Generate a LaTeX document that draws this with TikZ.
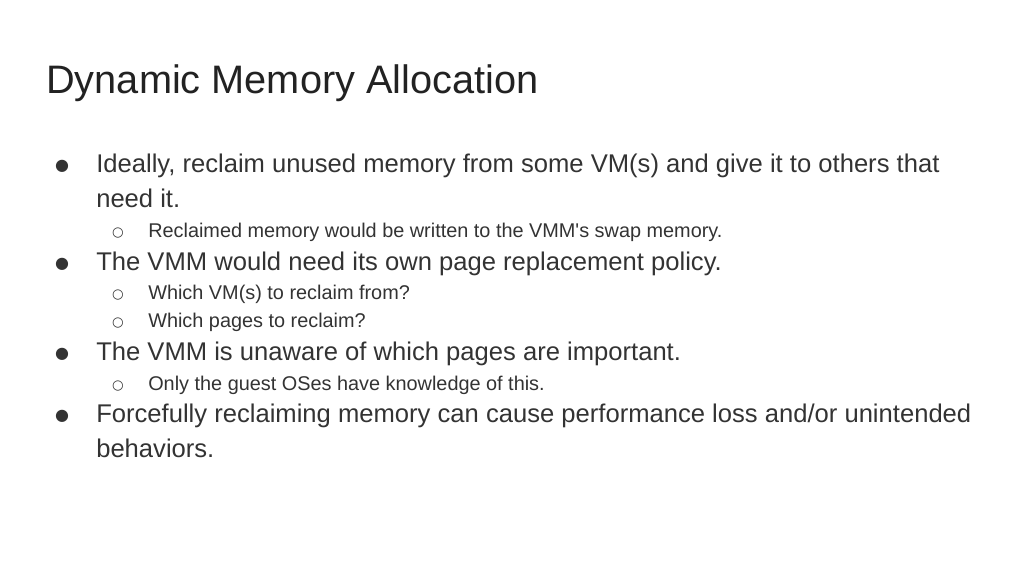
\documentclass[tikz,border=0pt]{standalone}
\usepackage{fontspec}
\setmainfont{Liberation Sans}
\newfontfamily\symfont{DejaVu Sans}
\definecolor{ink}{HTML}{222222}
\definecolor{body}{HTML}{333333}
\tikzset{
  title/.style={anchor=base west,inner sep=0pt,text=ink,font=\fontsize{29.8}{34}\selectfont},
  main/.style={anchor=base west,inner sep=0pt,text=body,font=\fontsize{19.2}{23}\selectfont},
  sub/.style={anchor=base west,inner sep=0pt,text=body,font=\fontsize{14.9}{18}\selectfont},
  dot/.style={anchor=base,inner sep=0pt,text=body,font=\symfont\fontsize{12}{14}\selectfont},
  ring/.style={anchor=base,inner sep=0pt,text=body,font=\symfont\fontsize{10}{12}\selectfont}
}
\begin{document}
\begin{tikzpicture}[x=0.75pt,y=-0.75pt]
\useasboundingbox (0,0) rectangle (1024,576);
\node[title] (head) at (46,93) {Dynamic Memory Allocation};
% first point
\node[dot] (b1) at (62,170) {●};
\node[main] (t1) at (96,172) {Ideally, reclaim unused memory from some VM(s) and give it to others that};
\node[main] (t1b) at (96,207) {need it.};
\node[ring] (s1) at (118,236) {○};
\node[sub] (u1) at (148,237) {Reclaimed memory would be written to the VMM\textquotesingle s swap memory.};
% second point
\node[dot] (b2) at (62,268) {●};
\node[main] (t2) at (96,270) {The VMM would need its own page replacement policy.};
\node[ring] (s2) at (118,298) {○};
\node[sub] (u2) at (148,299) {Which VM(s) to reclaim from?};
\node[ring] (s3) at (118,326) {○};
\node[sub] (u3) at (148,327) {Which pages to reclaim?};
% third point
\node[dot] (b3) at (62,358) {●};
\node[main] (t3) at (96,360) {The VMM is unaware of which pages are important.};
\node[ring] (s4) at (118,389) {○};
\node[sub] (u4) at (148,390) {Only the guest OSes have knowledge of this.};
% fourth point
\node[dot] (b4) at (62,420) {●};
\node[main] (t4) at (96,422) {Forcefully reclaiming memory can cause performance loss and/or unintended};
\node[main] (t4b) at (96,457) {behaviors.};
\end{tikzpicture}
\end{document}
